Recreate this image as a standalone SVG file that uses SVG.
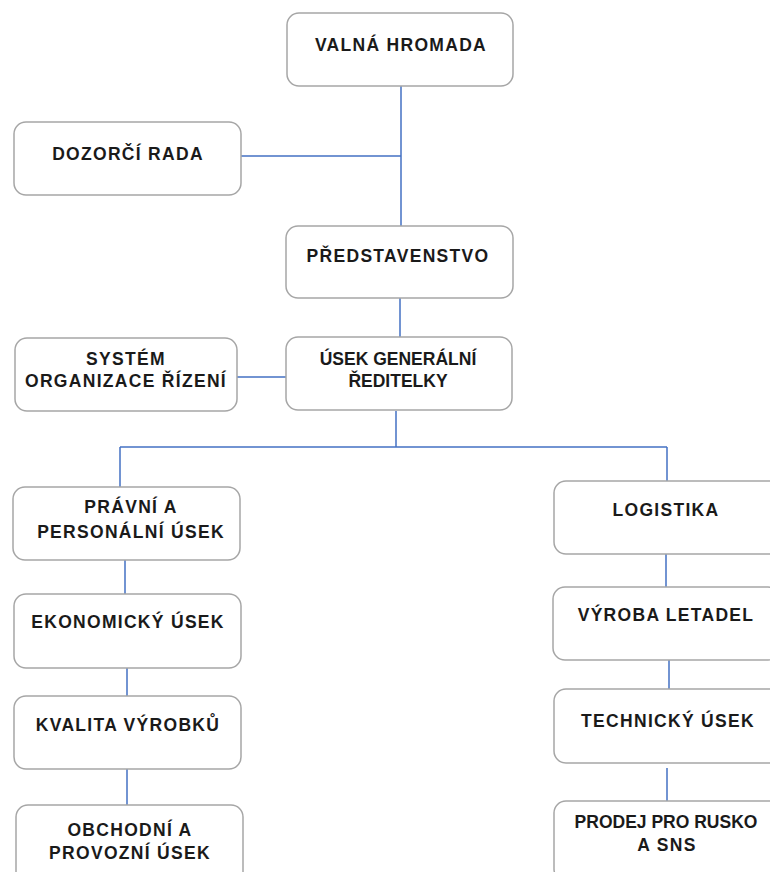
<svg xmlns="http://www.w3.org/2000/svg" width="770" height="872" viewBox="0 0 770 872">
<style>
.box{fill:#fff;stroke:#a6a6a6;stroke-width:1.5}
.t{font-family:"Liberation Sans",Arial,sans-serif;font-weight:bold;font-size:17.5px;letter-spacing:1.3px;fill:#1a1a1a;text-anchor:middle}
.n{letter-spacing:0}
.c{stroke:#4472c4;stroke-width:1.5;fill:none}
</style>
<rect width="770" height="872" fill="#fff"/>
<g id="connectors">
<path class="c" d="M401 86V226M241 156H401M400 298V337M237 377H286M396 411V447M120 447H667M120 447V487M667 447V481M125 560V594M127 668V696M127 769V805M666 554V587M669 660V689M667 768V801"/>
</g>
<g id="valna-hromada"><rect class="box" x="287" y="13" width="226" height="73" rx="12"/><text class="t" x="401" y="51">VALNÁ HROMADA</text></g>
<g id="dozorci-rada"><rect class="box" x="14" y="122" width="227" height="73" rx="12"/><text class="t" x="128" y="160">DOZORČÍ RADA</text></g>
<g id="predstavenstvo"><rect class="box" x="286" y="226" width="227" height="72" rx="12"/><text class="t" x="398" y="262">PŘEDSTAVENSTVO</text></g>
<g id="usek-generalni"><rect class="box" x="286" y="337" width="226" height="73" rx="12"/><text class="t n" x="398" y="365">ÚSEK GENERÁLNÍ</text><text class="t n" x="398" y="387">ŘEDITELKY</text></g>
<g id="system-organizace"><rect class="box" x="15" y="338" width="222" height="73" rx="12"/><text class="t" x="126" y="365">SYSTÉM</text><text class="t" x="126" y="387">ORGANIZACE ŘÍZENÍ</text></g>
<g id="pravni"><rect class="box" x="13" y="487" width="227" height="73" rx="12"/><text class="t" x="131" y="513">PRÁVNÍ A</text><text class="t" x="131" y="538">PERSONÁLNÍ ÚSEK</text></g>
<g id="ekonomicky"><rect class="box" x="14" y="594" width="227" height="74" rx="12"/><text class="t" x="128" y="628">EKONOMICKÝ ÚSEK</text></g>
<g id="kvalita"><rect class="box" x="14" y="696" width="227" height="73" rx="12"/><text class="t" x="128" y="731">KVALITA VÝROBKŮ</text></g>
<g id="obchodni"><rect class="box" x="16" y="805" width="227" height="80" rx="12"/><text class="t" x="130" y="836">OBCHODNÍ A</text><text class="t" x="130" y="859">PROVOZNÍ ÚSEK</text></g>
<g id="logistika"><rect class="box" x="554" y="481" width="227" height="73" rx="12"/><text class="t" x="666" y="516">LOGISTIKA</text></g>
<g id="vyroba-letadel"><rect class="box" x="553" y="587" width="227" height="73" rx="12"/><text class="t" x="666" y="621">VÝROBA LETADEL</text></g>
<g id="technicky"><rect class="box" x="554" y="689" width="227" height="74" rx="12"/><text class="t" x="668" y="727">TECHNICKÝ ÚSEK</text></g>
<g id="prodej"><rect class="box" x="554" y="801" width="227" height="80" rx="12"/><text class="t n" x="666" y="828">PRODEJ PRO RUSKO</text><text class="t" x="667" y="851">A SNS</text></g>
</svg>
